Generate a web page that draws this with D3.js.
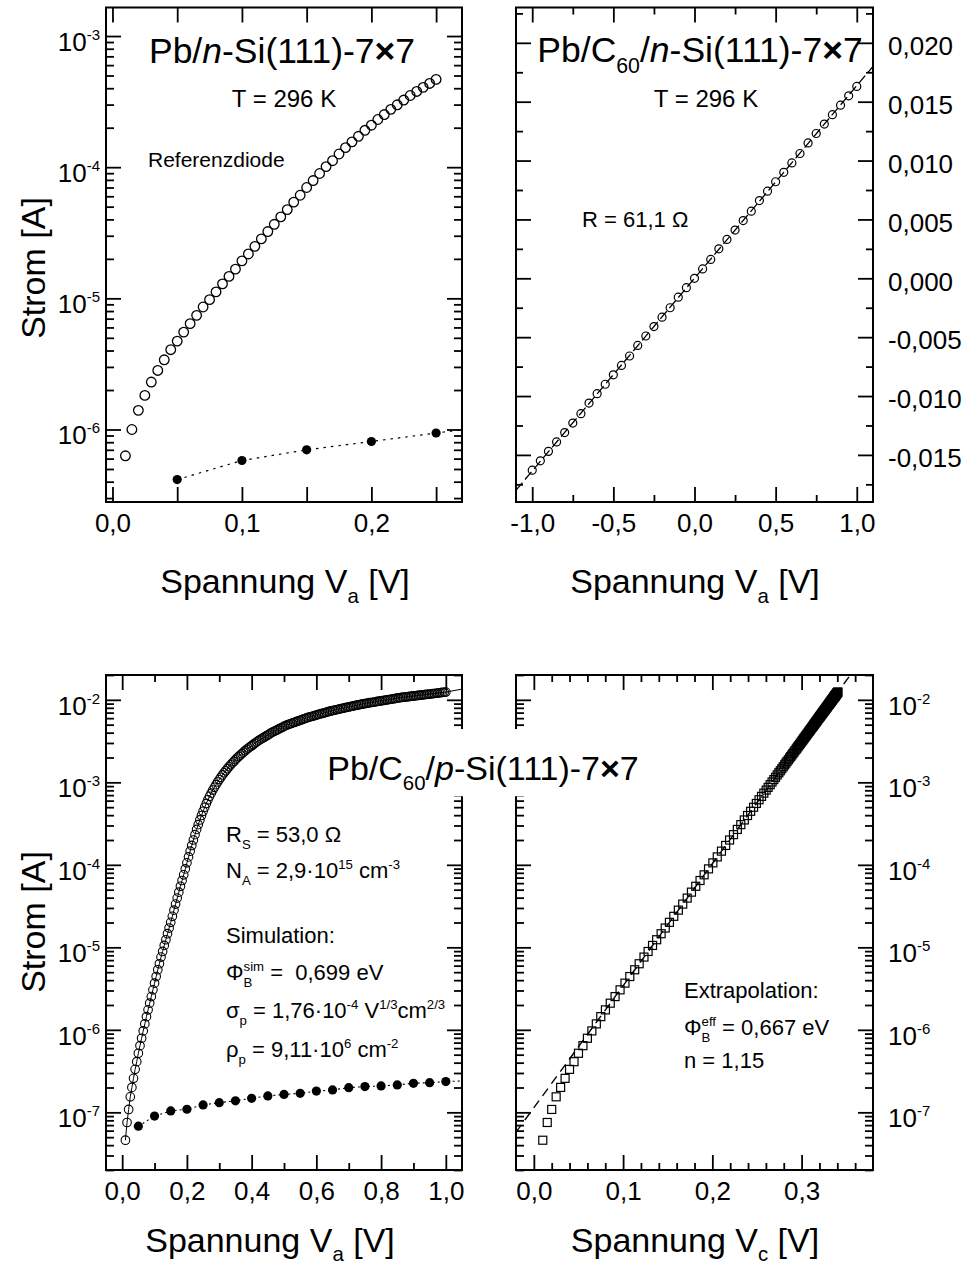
<!DOCTYPE html>
<html>
<head>
<meta charset="utf-8">
<title>Pb/C60/Si(111)-7x7 Kennlinien</title>
<script src="https://cdn.jsdelivr.net/npm/d3@7"></script>
<style>
  body { margin: 0; background: #fff; }
  svg { display: block; }
</style>
</head>
<body>
<svg id="chart" width="963" height="1267"></svg>
<script>
// ---- data ------------------------------------------------------------

// Pb/n-Si(111)-7x7 reference diode (T = 296 K), sweep 0.01 ... 0.25 V
const refI = [
  6.3e-7, 1.0e-6, 1.40e-6, 1.82e-6, 2.30e-6, 2.82e-6, 3.40e-6, 4.06e-6, 4.72e-6, 5.53e-6,
  6.41e-6, 7.42e-6, 8.59e-6, 9.77e-6, 1.12e-5, 1.29e-5, 1.47e-5, 1.67e-5, 1.93e-5, 2.18e-5,
  2.49e-5, 2.84e-5, 3.23e-5, 3.67e-5, 4.18e-5, 4.75e-5, 5.41e-5, 6.11e-5, 7.00e-5, 7.91e-5,
  8.95e-5, 1.01e-4, 1.12e-4, 1.26e-4, 1.41e-4, 1.56e-4, 1.72e-4, 1.91e-4, 2.09e-4, 2.31e-4,
  2.52e-4, 2.76e-4, 2.99e-4, 3.25e-4, 3.52e-4, 3.78e-4, 4.06e-4, 4.35e-4, 4.67e-4
];
const refV = refI.map((_, i) => 0.01 + i * 0.005);
const refDotV = [0.05, 0.10, 0.15, 0.20, 0.25];
const refDotI = [4.15e-7, 5.8e-7, 7.0e-7, 8.1e-7, 9.4e-7];
const refDotTail = [0.272, 1.0e-6];   // dotted line runs on to the frame

// Pb/C60/n-Si(111)-7x7, linear, R = 61,1 Ohm
const nV = d3.range(-1.0, 1.0001, 0.05);
const nI = [
  -0.0163, -0.0155, -0.0147, -0.0139, -0.0131, -0.0123, -0.0115, -0.0106, -0.0098, -0.0090,
  -0.0082, -0.0074, -0.0066, -0.0057, -0.0049, -0.0041, -0.0033, -0.0025, -0.0016, -0.0008,
  0.0000, 0.0008, 0.0016, 0.0025, 0.0033, 0.0041, 0.0049, 0.0057, 0.0066, 0.0074,
  0.0082, 0.0090, 0.0098, 0.0106, 0.0115, 0.0123, 0.0131, 0.0139, 0.0147, 0.0155, 0.0163
];
const nFitV = [-1.1, 1.1];
const nFitI = [-0.0180, 0.0180];

// Pb/C60/p-Si(111)-7x7: log10(I / A), sweep 0.01 ... 1.0 V in 0.005 V steps
const pLogI = [
  -7.338, -7.123, -6.965, -6.812, -6.698, -6.588, -6.479, -6.386, -6.284, -6.192,
  -6.102, -6.013, -5.928, -5.840, -5.758, -5.677, -5.597, -5.515, -5.434, -5.354,
  -5.272, -5.199, -5.118, -5.050, -4.977, -4.908, -4.835, -4.766, -4.697, -4.624,
  -4.549, -4.476, -4.403, -4.331, -4.260, -4.190, -4.121, -4.049, -3.976, -3.904,
  -3.834, -3.765, -3.699, -3.634, -3.571, -3.513, -3.456, -3.402, -3.351, -3.302,
  -3.256, -3.211, -3.170, -3.131, -3.094, -3.061, -3.028, -2.996, -2.967, -2.939,
  -2.910, -2.884, -2.860, -2.835, -2.811, -2.788, -2.767, -2.747, -2.726, -2.705,
  -2.687, -2.669, -2.652, -2.634, -2.617, -2.599, -2.585, -2.570, -2.556, -2.541,
  -2.526, -2.512, -2.498, -2.486, -2.474, -2.462, -2.450, -2.438, -2.426, -2.414,
  -2.401, -2.391, -2.381, -2.372, -2.362, -2.352, -2.342, -2.332, -2.322, -2.313,
  -2.304, -2.297, -2.290, -2.283, -2.276, -2.269, -2.262, -2.255, -2.248, -2.241,
  -2.233, -2.226, -2.219, -2.213, -2.207, -2.202, -2.196, -2.191, -2.185, -2.180,
  -2.174, -2.168, -2.163, -2.157, -2.152, -2.146, -2.141, -2.135, -2.130, -2.126,
  -2.121, -2.117, -2.113, -2.108, -2.104, -2.100, -2.095, -2.091, -2.087, -2.083,
  -2.078, -2.074, -2.070, -2.065, -2.061, -2.057, -2.053, -2.048, -2.045, -2.042,
  -2.039, -2.035, -2.032, -2.029, -2.026, -2.022, -2.019, -2.016, -2.013, -2.009,
  -2.006, -2.003, -2.000, -1.996, -1.993, -1.990, -1.987, -1.983, -1.980, -1.977,
  -1.974, -1.971, -1.968, -1.966, -1.964, -1.961, -1.959, -1.956, -1.954, -1.952,
  -1.949, -1.947, -1.944, -1.942, -1.939, -1.937, -1.935, -1.932, -1.930, -1.927,
  -1.925, -1.923, -1.920, -1.918, -1.915, -1.913, -1.910, -1.908, -1.906
];
const pV = pLogI.map((_, i) => 0.01 + i * 0.005);
// same points against the corrected voltage V_c
const pVc = [
  0.010, 0.015, 0.020, 0.025, 0.030, 0.035, 0.040, 0.045, 0.050, 0.055,
  0.060, 0.065, 0.070, 0.075, 0.0802, 0.0856, 0.0910, 0.0966, 0.1021, 0.1075,
  0.1130, 0.1180, 0.1234, 0.1280, 0.1330, 0.1376, 0.1426, 0.1472, 0.1519, 0.1568,
  0.1619, 0.1668, 0.1718, 0.1766, 0.1814, 0.1862, 0.1908, 0.1957, 0.2006, 0.2055,
  0.2102, 0.2149, 0.2193, 0.2237, 0.2280, 0.2319, 0.2358, 0.2394, 0.2429, 0.2462,
  0.2493, 0.2523, 0.2551, 0.2577, 0.2603, 0.2625, 0.2648, 0.2669, 0.2689, 0.2708,
  0.2727, 0.2745, 0.2761, 0.2778, 0.2794, 0.2810, 0.2824, 0.2837, 0.2852, 0.2866,
  0.2878, 0.2890, 0.2902, 0.2914, 0.2925, 0.2938, 0.2947, 0.2957, 0.2967, 0.2977,
  0.2987, 0.2996, 0.3006, 0.3014, 0.3022, 0.3030, 0.3038, 0.3046, 0.3054, 0.3063,
  0.3071, 0.3078, 0.3085, 0.3091, 0.3098, 0.3104, 0.3111, 0.3118, 0.3125, 0.3131,
  0.3136, 0.3142, 0.3146, 0.3151, 0.3156, 0.3160, 0.3165, 0.3170, 0.3175, 0.3179,
  0.3184, 0.3189, 0.3194, 0.3198, 0.3202, 0.3205, 0.3209, 0.3213, 0.3217, 0.3220,
  0.3225, 0.3228, 0.3231, 0.3236, 0.3239, 0.3243, 0.3247, 0.3251, 0.3254, 0.3257,
  0.3260, 0.3263, 0.3266, 0.3269, 0.3271, 0.3275, 0.3278, 0.3280, 0.3284, 0.3286,
  0.3289, 0.3292, 0.3295, 0.3298, 0.3301, 0.3304, 0.3306, 0.3309, 0.3312, 0.3314,
  0.3315, 0.3319, 0.3320, 0.3322, 0.3325, 0.3327, 0.3329, 0.3332, 0.3333, 0.3336,
  0.3338, 0.3340, 0.3342, 0.3345, 0.3347, 0.3348, 0.3351, 0.3354, 0.3355, 0.3358,
  0.3360, 0.3361, 0.3364, 0.3365, 0.3366, 0.3369, 0.3370, 0.3372, 0.3374, 0.3375,
  0.3376, 0.3377, 0.3380, 0.3381, 0.3383, 0.3385, 0.3386, 0.3388, 0.3390, 0.3391,
  0.3392, 0.3394, 0.3396, 0.3397, 0.3400, 0.3401, 0.3403, 0.3405, 0.3406
];
const pSimTail = [1.05, -1.87];       // simulation line beyond the last point
const pDotV = d3.range(0.05, 1.0001, 0.05);
const pDotI = [
  6.8e-8, 9.0e-8, 1.04e-7, 1.09e-7, 1.23e-7, 1.31e-7, 1.38e-7, 1.48e-7, 1.58e-7, 1.65e-7,
  1.70e-7, 1.81e-7, 1.87e-7, 1.99e-7, 2.05e-7, 2.09e-7, 2.15e-7, 2.25e-7, 2.29e-7, 2.36e-7
];
const pDotTail = [1.05, 2.4e-7];
const pFitVc = [-0.02, 0.36];          // extrapolation line
const pFitLogI = [-7.24, -1.62];

// ---- setup ------------------------------------------------------------

const FONT = '"Liberation Sans", Arial, Helvetica, sans-serif';
const svg = d3.select("#chart").attr("font-family", FONT);
const de = d3.formatLocale({decimal: ",", thousands: ".", grouping: [3], currency: ["", ""], minus: "-"});
const f1 = de.format(".1f"), f3 = de.format(".3f");

const xa = d3.scaleLinear([-0.005, 0.27], [106, 462]);
const ya = d3.scaleLog([2.8e-7, 1.65e-3], [502, 7.5]);
const xb = d3.scaleLinear([-1.1, 1.1], [516, 873]);
const yb = d3.scaleLinear([-0.019, 0.023], [502, 7.5]);
const xc = d3.scaleLinear([-0.05, 1.05], [106, 462]);
const yc = d3.scaleLog([2e-8, 2e-2], [1170, 675]);
const xd = d3.scaleLinear([-0.02, 0.38], [516, 873]);
const yd = d3.scaleLog([2e-8, 2e-2], [1170, 675]);

const isDecade = v => Math.abs(Math.log10(v) - Math.round(Math.log10(v))) < 1e-9;
const near = (v, step) => Math.abs(v / step - Math.round(v / step)) < 1e-6;

function ticks(gen, scale, values, size, at, fmt, pad) {
  const g = svg.append("g").attr("transform", at)
    .call(gen(scale).tickValues(values).tickSize(-size).tickPadding(pad || 12)
      .tickFormat(fmt || (() => "")));
  g.attr("font-family", FONT).attr("font-size", 26);
  g.select(".domain").remove();
  g.selectAll(".tick line").attr("stroke", "#000").attr("stroke-width", 1.8);
  g.selectAll(".tick text").attr("fill", "#000");
  return g;
}

function logTicks(y, xl, xr, labelSide) {
  const all = y.ticks();
  const major = all.filter(isDecade), minor = all.filter(v => !isDecade(v));
  const left = labelSide === "left";
  const lab = ticks(left ? d3.axisLeft : d3.axisRight, y, major, 15,
    `translate(${left ? xl : xr},0)`, () => "10", left ? 6 : 15);
  lab.selectAll(".tick text").attr("dy", "0.55em")
    .append("tspan").attr("dy", -11).attr("font-size", 15)
    .text(d => Math.round(Math.log10(d)));
  ticks(left ? d3.axisRight : d3.axisLeft, y, major, 15, `translate(${left ? xr : xl},0)`);
  ticks(d3.axisLeft, y, minor, 8, `translate(${xl},0)`);
  ticks(d3.axisRight, y, minor, 8, `translate(${xr},0)`);
}

function frame(x, y) {
  const [l, r] = x.range(), [b, t] = y.range();
  svg.append("rect").attr("x", l).attr("y", t).attr("width", r - l).attr("height", b - t)
    .attr("fill", "none").attr("stroke", "#000").attr("stroke-width", 2);
}

function clipFor(id, x, y) {
  const [l, r] = x.range(), [b, t] = y.range();
  svg.append("clipPath").attr("id", id).append("rect")
    .attr("x", l).attr("y", t).attr("width", r - l).attr("height", b - t);
  return `url(#${id})`;
}

function rich(x, y, parts, size, anchor, subShift) {
  const t = svg.append("text").attr("x", x).attr("y", y)
    .attr("font-size", size).attr("text-anchor", anchor || "start");
  let shift = 0;
  for (const [s, kind, dx] of parts) {
    const off = kind === "sub" ? (subShift || 0.3) * size : kind === "sup" ? -0.42 * size : 0;
    const ts = t.append("tspan").text(s);
    if (off !== shift) ts.attr("dy", off - shift);
    if (kind === "sub" || kind === "sup") ts.attr("font-size", 0.6 * size);
    if (kind === "i") ts.attr("font-style", "italic");
    if (kind === "b") ts.attr("font-weight", "bold");
    if (dx) ts.attr("dx", dx);
    shift = off;
  }
  return t;
}

function vTitle(x, y) {
  svg.append("text").attr("transform", `translate(${x},${y}) rotate(-90)`)
    .attr("text-anchor", "middle").attr("font-size", 34).text("Strom [A]");
}

const line = (x, y) => d3.line().x(d => x(d[0])).y(d => y(d[1]));

// ---- panel a: Pb/n-Si(111)-7x7 ----------------------------------------

{
  const xt = d3.range(0, 0.2701, 0.05);
  ticks(d3.axisBottom, xa, xt, 15, "translate(0,502)", v => near(v, 0.1) ? f1(v) : "");
  ticks(d3.axisTop, xa, xt, 15, "translate(0,7.5)");
  logTicks(ya, 106, 462, "left");

  const clip = clipFor("clipA", xa, ya);
  svg.append("path").attr("clip-path", clip)
    .datum(d3.zip(refDotV, refDotI).concat([refDotTail]))
    .attr("d", line(xa, ya)).attr("fill", "none").attr("stroke", "#000")
    .attr("stroke-width", 1.2).attr("stroke-dasharray", "2.5,5");
  svg.append("g").selectAll("circle").data(d3.zip(refDotV, refDotI)).join("circle")
    .attr("cx", d => xa(d[0])).attr("cy", d => ya(d[1])).attr("r", 4.6).attr("fill", "#000");
  svg.append("g").selectAll("circle").data(d3.zip(refV, refI)).join("circle")
    .attr("cx", d => xa(d[0])).attr("cy", d => ya(d[1])).attr("r", 4.8)
    .attr("fill", "none").attr("stroke", "#000").attr("stroke-width", 1.3);
  frame(xa, ya);

  rich(282, 63, [["Pb/"], ["n", "i"], ["-Si(111)-7"], ["×", "b"], ["7"]], 35.5, "middle");
  rich(284, 107, [["T = 296 K"]], 24, "middle");
  rich(148, 167, [["Referenzdiode"]], 21);
  vTitle(45, 268);
  rich(285, 593, [["Spannung V"], ["a", "sub"], [" [V]"]], 34, "middle");
}

// ---- panel b: Pb/C60/n-Si(111)-7x7 ------------------------------------

{
  const xMaj = [-1, -0.5, 0, 0.5, 1], xMin = [-0.75, -0.25, 0.25, 0.75];
  ticks(d3.axisBottom, xb, xMaj, 15, "translate(0,502)", f1);
  ticks(d3.axisBottom, xb, xMin, 7, "translate(0,502)");
  ticks(d3.axisTop, xb, xMaj, 15, "translate(0,7.5)");
  ticks(d3.axisTop, xb, xMin, 7, "translate(0,7.5)");
  const yMaj = d3.range(-0.015, 0.0201, 0.005), yMin = d3.range(-0.0175, 0.0226, 0.005);
  ticks(d3.axisRight, yb, yMaj, 15, "translate(873,0)", f3, 15)
    .selectAll(".tick text").attr("dy", "0.45em");
  ticks(d3.axisLeft, yb, yMaj, 15, "translate(516,0)");
  ticks(d3.axisRight, yb, yMin, 7, "translate(873,0)");
  ticks(d3.axisLeft, yb, yMin, 7, "translate(516,0)");

  const clip = clipFor("clipB", xb, yb);
  svg.append("path").attr("clip-path", clip).datum(d3.zip(nFitV, nFitI))
    .attr("d", line(xb, yb)).attr("fill", "none").attr("stroke", "#000")
    .attr("stroke-width", 1.3).attr("stroke-dasharray", "10,4");
  svg.append("g").selectAll("circle").data(d3.zip(nV, nI)).join("circle")
    .attr("cx", d => xb(d[0])).attr("cy", d => yb(d[1])).attr("r", 4)
    .attr("fill", "none").attr("stroke", "#000").attr("stroke-width", 1.2);
  frame(xb, yb);

  rich(700, 62, [["Pb/C"], ["60", "sub"], ["/"], ["n", "i"], ["-Si(111)-7"], ["×", "b"], ["7"]], 35.5, "middle");
  rich(706, 107, [["T = 296 K"]], 24, "middle");
  rich(582, 227, [["R = 61,1 Ω"]], 22);
  rich(695, 593, [["Spannung V"], ["a", "sub"], [" [V]"]], 34, "middle");
}

// ---- panel c: Pb/C60/p-Si(111)-7x7 against V_a ------------------------

{
  const xMaj = d3.range(0, 1.0001, 0.2), xMin = d3.range(0.1, 1.0, 0.2);
  ticks(d3.axisBottom, xc, xMaj, 15, "translate(0,1170)", f1);
  ticks(d3.axisBottom, xc, xMin, 7, "translate(0,1170)");
  ticks(d3.axisTop, xc, xMaj, 15, "translate(0,675)");
  ticks(d3.axisTop, xc, xMin, 7, "translate(0,675)");
  logTicks(yc, 106, 462, "left");

  const clip = clipFor("clipC", xc, yc);
  const pts = pV.map((v, i) => [v, Math.pow(10, pLogI[i])]);
  svg.append("path").attr("clip-path", clip)
    .datum(pts.concat([[pSimTail[0], Math.pow(10, pSimTail[1])]]))
    .attr("d", line(xc, yc)).attr("fill", "none").attr("stroke", "#000").attr("stroke-width", 1);
  svg.append("g").selectAll("circle").data(pts).join("circle")
    .attr("cx", d => xc(d[0])).attr("cy", d => yc(d[1])).attr("r", 4.3)
    .attr("fill", "none").attr("stroke", "#000").attr("stroke-width", 1.1);
  svg.append("path").attr("clip-path", clip)
    .datum(d3.zip(pDotV, pDotI).concat([pDotTail]))
    .attr("d", line(xc, yc)).attr("fill", "none").attr("stroke", "#000")
    .attr("stroke-width", 1.1).attr("stroke-dasharray", "2,3");
  svg.append("g").selectAll("circle").data(d3.zip(pDotV, pDotI)).join("circle")
    .attr("cx", d => xc(d[0])).attr("cy", d => yc(d[1])).attr("r", 4.6).attr("fill", "#000");
  frame(xc, yc);

  const ann = [
    [842, [["R"], ["S", "sub"], [" = 53,0 Ω"]]],
    [878, [["N"], ["A", "sub"], [" = 2,9·10"], ["15", "sup"], [" cm"], ["-3", "sup"]]],
    [943, [["Simulation:"]]],
    [980, [["Φ"], ["B", "sub"], ["sim", "sup", -8.8], [" =\u00a0 0,699 eV"]]],
    [1018, [["σ"], ["p", "sub"], [" = 1,76·10"], ["-4", "sup"], [" V"], ["1/3", "sup"], ["cm"], ["2/3", "sup"]]],
    [1057, [["ρ"], ["p", "sub"], [" = 9,11·10"], ["6", "sup"], [" cm"], ["-2", "sup"]]]
  ];
  ann.forEach(([y, parts]) => rich(226, y, parts, 22));
  vTitle(45, 922);
  rich(270, 1252, [["Spannung V"], ["a", "sub"], [" [V]"]], 34, "middle", 0.26);
}

// ---- panel d: same diode against V_c ----------------------------------

{
  const xMaj = [0, 0.1, 0.2, 0.3];
  const xMin = d3.range(0.02, 0.371, 0.02).filter(v => !near(v, 0.1));
  ticks(d3.axisBottom, xd, xMaj, 15, "translate(0,1170)", f1);
  ticks(d3.axisBottom, xd, xMin, 7, "translate(0,1170)");
  ticks(d3.axisTop, xd, xMaj, 15, "translate(0,675)");
  ticks(d3.axisTop, xd, xMin, 7, "translate(0,675)");
  logTicks(yd, 516, 873, "right");

  const clip = clipFor("clipD", xd, yd);
  svg.append("path").attr("clip-path", clip)
    .datum(pFitVc.map((v, i) => [v, Math.pow(10, pFitLogI[i])]))
    .attr("d", line(xd, yd)).attr("fill", "none").attr("stroke", "#000")
    .attr("stroke-width", 1.4).attr("stroke-dasharray", "9,6");
  svg.append("g").selectAll("rect").data(pVc.map((v, i) => [v, Math.pow(10, pLogI[i])])).join("rect")
    .attr("x", d => xd(d[0]) - 4).attr("y", d => yd(d[1]) - 4).attr("width", 8).attr("height", 8)
    .attr("fill", "none").attr("stroke", "#000").attr("stroke-width", 1.2);
  frame(xd, yd);

  rich(684, 998, [["Extrapolation:"]], 22);
  rich(684, 1035, [["Φ"], ["B", "sub"], ["eff", "sup", -8.8], [" = 0,667 eV"]], 22);
  rich(684, 1068, [["n = 1,15"]], 22);
  rich(695, 1252, [["Spannung V"], ["c", "sub"], [" [V]"]], 34, "middle", 0.26);
}

// ---- shared title across the two lower panels --------------------------

{
  const bg = svg.append("rect").attr("fill", "#fff");
  const t = rich(483, 780, [["Pb/C"], ["60", "sub"], ["/"], ["p", "i"], ["-Si(111)-7"], ["×", "b"], ["7"]], 34, "middle");
  const bb = t.node().getBBox();
  bg.attr("x", bb.x - 4).attr("y", bb.y - 20).attr("width", bb.width + 8).attr("height", bb.height + 22);
}
</script>
</body>
</html>
